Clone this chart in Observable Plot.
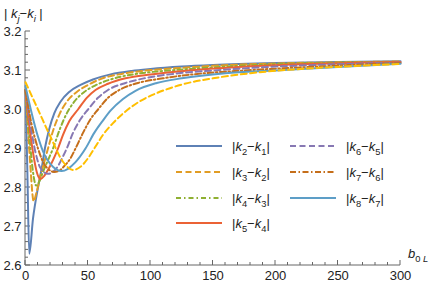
<!DOCTYPE html>
<html><head><meta charset="utf-8">
<script src="https://cdn.jsdelivr.net/npm/d3@7"></script>
<script src="https://cdn.jsdelivr.net/npm/@observablehq/plot@0.6"></script>
<style>body{margin:0;background:#fff}svg{display:block}</style>
</head><body><div id="chart"></div>
<script>
// ---- data ----
const pairs = [[2,1],[3,2],[4,3],[5,4],[6,5],[7,6],[8,7],[9,8]];
const inLegend = [true,true,true,true,true,true,true,false];

const b21 = [0,1.5,3,6,10,13,15.5,19,23,28,35,44,54,68,85,100,125,150,200,250,300];
const v21 = [3.05,2.84,2.63,2.72,2.80,2.85,2.90,2.95,2.99,3.02,3.045,3.063,3.077,3.09,3.099,3.104,3.11,3.114,3.119,3.122,3.124];
const b32 = [0,2,4,6.5,9,12,15,18,22.5,27.5,33,41,50,60,80,100,125,150,200,250,300];
const v32 = [3.05,2.95,2.85,2.765,2.79,2.83,2.865,2.90,2.95,2.99,3.02,3.045,3.063,3.078,3.093,3.101,3.107,3.112,3.118,3.121,3.123];
const b43 = [0,2,4,6,8.5,11,14,18,22,27.5,33,39,47,56,68,90,115,150,200,250,300];
const v43 = [3.05,2.97,2.90,2.84,2.805,2.815,2.84,2.87,2.90,2.95,2.99,3.02,3.045,3.062,3.077,3.092,3.10,3.108,3.116,3.12,3.122];
const b54 = [0,3,6,9,12,15,18,22,26,30,35,42,49,56,66,80,100,130,170,220,300];
const v54 = [3.05,2.96,2.89,2.84,2.822,2.83,2.845,2.87,2.90,2.935,2.97,3.0,3.03,3.05,3.066,3.08,3.09,3.10,3.109,3.116,3.122];
const b65 = [0,4,8,12,18,22,26,30,33,38,44,50,58,66,80,95,120,150,200,250,300];
const v65 = [3.05,2.96,2.89,2.85,2.835,2.84,2.855,2.88,2.90,2.94,2.975,3.0,3.03,3.05,3.068,3.08,3.092,3.10,3.11,3.116,3.12];
const b76 = [0,5,10,15,23,27,31,36,40,46,52,58,66,75,90,110,140,175,220,260,300];
const v76 = [3.05,2.96,2.90,2.86,2.84,2.843,2.855,2.875,2.90,2.94,2.975,3.0,3.03,3.05,3.068,3.08,3.092,3.10,3.108,3.114,3.119];
const b87 = [0,5,10,15,20,29,34,40,48,55,62,68,78,88,105,125,160,200,250,300];
const v87 = [3.06,2.99,2.93,2.885,2.86,2.842,2.848,2.865,2.90,2.94,2.972,2.997,3.027,3.048,3.068,3.08,3.093,3.10,3.109,3.117];
const b98 = [0,10,20,30,38,44,50,56,62,70,80,92,105,125,150,180,220,260,300];
const v98 = [3.07,3.0,2.93,2.866,2.845,2.853,2.875,2.905,2.935,2.965,2.995,3.022,3.042,3.064,3.08,3.093,3.104,3.111,3.117];

const xTicks = [0,50,100,150,200,250,300];
const yTicks = [2.6,2.7,2.8,2.9,3.0,3.1,3.2];

// ---- styles ----
const colors = ["#5E81B5","#E19C24","#8FB032","#EB6235","#8778B3","#C56E1A","#5D9EC7","#FFBF00"];
const dashes = [null,"6,3.5","5,3,1.5,3",null,"6,3.5","6,2.5,1.5,2.5",null,"6,3.5"];

const bs = [b21,b32,b43,b54,b65,b76,b87,b98];
const vs = [v21,v32,v43,v54,v65,v76,v87,v98];
const series = bs.map((b,i)=>b.map((x,j)=>({b:x, v:vs[i][j]})));

const FONT = "'Liberation Sans', Arial, sans-serif";

const chart = Plot.plot({
  width: 436, height: 285,
  marginLeft: 25, marginRight: 36, marginTop: 31, marginBottom: 20,
  style: {fontFamily: FONT, fontSize: "13px", background: "white", overflow: "visible"},
  x: {domain: [0,300], label: null},
  y: {domain: [2.6,3.2], label: null},
  marks: [
    Plot.axisX({ticks: xTicks, tickSize: 0, tickPadding: 5, fill: "#222", fontSize: 13, tickFormat: d => String(d)}),
    Plot.axisY({ticks: yTicks, tickSize: 0, tickPadding: 4, fill: "#222", fontSize: 13, tickFormat: d3.format(".1f")}),
    ...series.map((s,i)=>Plot.line(s, {x:"b", y:"v", stroke: colors[i], strokeWidth: 2,
       strokeDasharray: dashes[i] || undefined, curve: "monotone-x"}))
  ]
});
document.getElementById("chart").appendChild(chart);

const svg = d3.select(chart);
const sx = chart.scale("x"), sy = chart.scale("y");
const X = v => sx.apply(v), Y = v => sy.apply(v);
const firstLine = svg.select('g[aria-label="line"]').node();
const axisG = d3.select(chart.insertBefore(document.createElementNS("http://www.w3.org/2000/svg","g"), firstLine))
  .attr("stroke", "#666").attr("stroke-width", 1).attr("fill","none");
axisG.append("line").attr("x1", X(0)).attr("x2", X(0)).attr("y1", Y(2.6)).attr("y2", Y(3.2));
axisG.append("line").attr("x1", X(0)).attr("x2", X(300)).attr("y1", Y(2.6)).attr("y2", Y(2.6));
d3.range(0, 301, 10).forEach(t => {
  const major = t % 50 === 0;
  axisG.append("line").attr("x1", X(t)).attr("x2", X(t)).attr("y1", Y(2.6)).attr("y2", Y(2.6) - (major ? 5 : 3));
});
d3.range(0, 31).forEach(k => {
  const t = 2.6 + k * 0.02;
  const major = k % 5 === 0;
  axisG.append("line").attr("x1", X(0)).attr("x2", X(0) + (major ? 5 : 3)).attr("y1", Y(t)).attr("y2", Y(t));
});

// rich text helper: parts [[text, style]] style: "i" italic, "s" subscript
function rich(parent, x, y, parts, size) {
  const t = parent.append("text").attr("x", x).attr("y", y).attr("text-anchor", "start")
    .attr("font-family", FONT).attr("font-size", size).attr("fill", "#222");
  let sub = false;
  parts.forEach(([txt, st]) => {
    const ts = t.append("tspan").text(txt);
    const isSub = st && st.includes("s");
    if (st && st.includes("i")) ts.attr("font-style", "italic");
    if (isSub) ts.attr("font-size", size * 0.72);
    if (isSub && !sub) ts.attr("dy", size * 0.3);
    if (!isSub && sub) ts.attr("dy", -size * 0.3);
    sub = isSub;
  });
  return t;
}

// y title
rich(svg, 4, 18, [["| ",""],["k","i"],["j","is"],["−",""],["k","i"],["i","is"],[" |",""]], 13);
// x title
rich(svg, 408, 258, [["b","i"],["0 ","s"],["L","is"]], 13);

// legend
const legendPos = [[176,146],[176,172],[176,198],[176,223],[290,146],[290,172],[290,198]];
const lg = svg.append("g");
pairs.forEach((p,i) => {
  if (!inLegend[i]) return;
  const [lx, ly] = legendPos[i];
  lg.append("line").attr("x1", lx).attr("x2", lx + 46).attr("y1", ly).attr("y2", ly)
    .attr("stroke", colors[i]).attr("stroke-width", 2).attr("stroke-dasharray", dashes[i]);
  rich(lg, lx + 56, ly + 5, [["|",""],["k","i"],[String(p[0]),"s"],["−",""],["k","i"],[String(p[1]),"s"],["|",""]], 13);
});
</script></body></html>
